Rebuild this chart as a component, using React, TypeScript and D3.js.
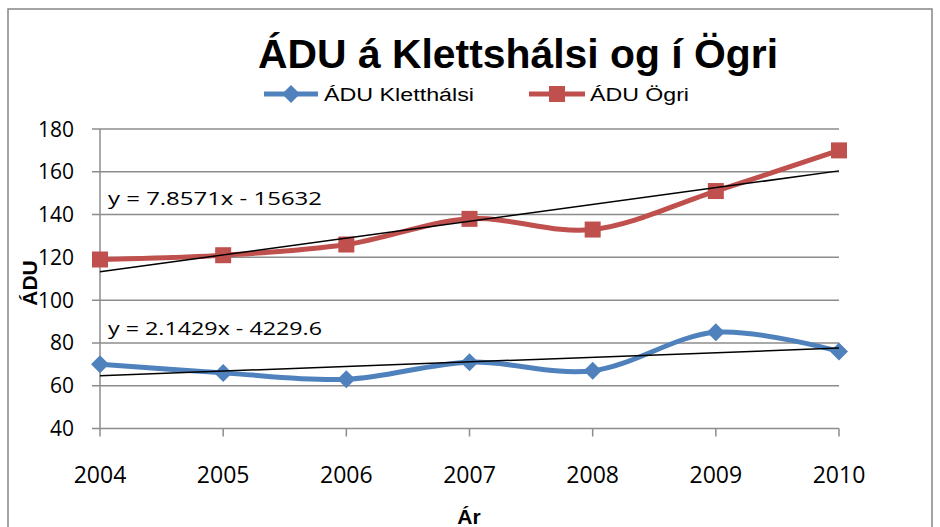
import React from 'react';
import * as d3 from 'd3';

const years = [2004, 2005, 2006, 2007, 2008, 2009, 2010];
const kletthalsi = [70, 66, 63, 71, 67, 85, 76];
const ogri = [119, 121, 126, 138, 133, 151, 170];
const yTicks = [40, 60, 80, 100, 120, 140, 160, 180];
const seriesNames = ['ÁDU Kletthálsi', 'ÁDU Ögri'];
const eqLabels = ['y = 2.1429x - 4229.6', 'y = 7.8571x - 15632'];

const FONT = '"Liberation Sans Narrow", "Liberation Sans", Arial, sans-serif';
const NUMFONT = '"Open Sans", sans-serif';
const BLUE = '#4F81BD';
const RED = '#C0504D';
const GRID = '#8c8c8c';

// least squares fit, like the excel trendline
const fit = (xs: number[], ys: number[]) => {
  const mx = d3.mean(xs)!;
  const my = d3.mean(ys)!;
  const num = d3.sum(xs, (x, i) => (x - mx) * (ys[i] - my));
  const den = d3.sum(xs, x => (x - mx) * (x - mx));
  const slope = num / den;
  return { slope, intercept: my - slope * mx };
};

const App = () => {
  const width = 940;
  const height = 527;
  const margin = { top: 129, right: 101, bottom: 98.5, left: 100 };

  const x = d3.scalePoint<number>()
    .domain(years)
    .range([margin.left, width - margin.right]);
  const y = d3.scaleLinear()
    .domain([40, 180])
    .range([height - margin.bottom, margin.top]);

  const line = d3.line<number>()
    .x((d, i) => x(years[i])!)
    .y(d => y(d))
    .curve(d3.curveCardinal.tension(0));

  const series = [
    { name: seriesNames[0], values: kletthalsi, color: BLUE, marker: 'diamond', eq: eqLabels[0], eqY: 335 },
    { name: seriesNames[1], values: ogri, color: RED, marker: 'square', eq: eqLabels[1], eqY: 205 },
  ];

  const x0 = x(years[0])!;
  const x1 = x(years[years.length - 1])!;
  const yBottom = y(40);

  const marker = (type: string, cx: number, cy: number, color: string, key: string) =>
    type === 'diamond'
      ? <path key={key} d={`M${cx},${cy - 9}L${cx + 9},${cy}L${cx},${cy + 9}L${cx - 9},${cy}Z`} fill={color} />
      : <rect key={key} x={cx - 8} y={cy - 8} width={16} height={16} fill={color} />;

  return (
    <svg width={width} height={height} style={{ position: 'absolute', left: 0, top: 0, background: '#fff' }}>
      <rect x={8} y={9} width={924} height={530} fill="#fff" stroke="#868686" strokeWidth={1.5} />

      {/* title */}
      <text x={518} y={68} textAnchor="middle" fontFamily={FONT} fontWeight="bold" fontSize={40}
        textLength={520} lengthAdjust="spacingAndGlyphs">ÁDU á Klettshálsi og í Ögri</text>

      {/* legend */}
      <g fontFamily={FONT} fontSize={18}>
        <line x1={264} x2={318} y1={94} y2={94} stroke={BLUE} strokeWidth={5} />
        {marker('diamond', 291, 94, BLUE, 'lg0')}
        <text x={324} y={101} textLength={150} lengthAdjust="spacingAndGlyphs">{seriesNames[0]}</text>
        <line x1={529} x2={585} y1={94} y2={94} stroke={RED} strokeWidth={5} />
        {marker('square', 557, 94, RED, 'lg1')}
        <text x={590} y={101} textLength={99} lengthAdjust="spacingAndGlyphs">{seriesNames[1]}</text>
      </g>

      {/* gridlines + y axis */}
      {yTicks.map(t => (
        <g key={t}>
          <line x1={92} x2={x1} y1={y(t)} y2={y(t)} stroke={GRID} strokeWidth={1.5} />
          <text x={74} y={y(t) + 7.5} textAnchor="end" fontFamily={NUMFONT} fontSize={21} fill="#000">{t}</text>
        </g>
      ))}
      <line x1={x0} x2={x0} y1={margin.top} y2={yBottom} stroke={GRID} strokeWidth={1.5} />

      {/* x axis ticks + labels */}
      {years.map(yr => (
        <g key={yr}>
          <line x1={x(yr)} x2={x(yr)} y1={yBottom} y2={yBottom + 8} stroke={GRID} strokeWidth={1.5} />
          <text x={x(yr)} y={483} textAnchor="middle" fontFamily={NUMFONT} fontSize={23}>{yr}</text>
        </g>
      ))}

      {/* axis titles */}
      <text x={469} y={524} textAnchor="middle" fontFamily={FONT} fontWeight="bold" fontSize={21}>Ár</text>
      <text transform="translate(37,283) rotate(-90)" textAnchor="middle" fontFamily={FONT} fontWeight="bold" fontSize={21}>ÁDU</text>

      {/* series */}
      {series.map(s => (
        <g key={s.name}>
          <path d={line(s.values)!} fill="none" stroke={s.color} strokeWidth={5} />
          {s.values.map((v, i) => marker(s.marker, x(years[i])!, y(v), s.color, `${s.name}-${i}`))}
        </g>
      ))}

      {/* trendlines */}
      {series.map(s => {
        const { slope, intercept } = fit(years, s.values);
        return (
          <g key={`t-${s.name}`}>
            <line x1={x0} x2={x1} y1={y(slope * years[0] + intercept)} y2={y(slope * years[years.length - 1] + intercept)}
              stroke="#000" strokeWidth={1.5} />
            <text x={108} y={s.eqY} fontFamily={NUMFONT} fontSize={18}
              textLength={214} lengthAdjust="spacingAndGlyphs">{s.eq}</text>
          </g>
        );
      })}
    </svg>
  );
};

export default App;
